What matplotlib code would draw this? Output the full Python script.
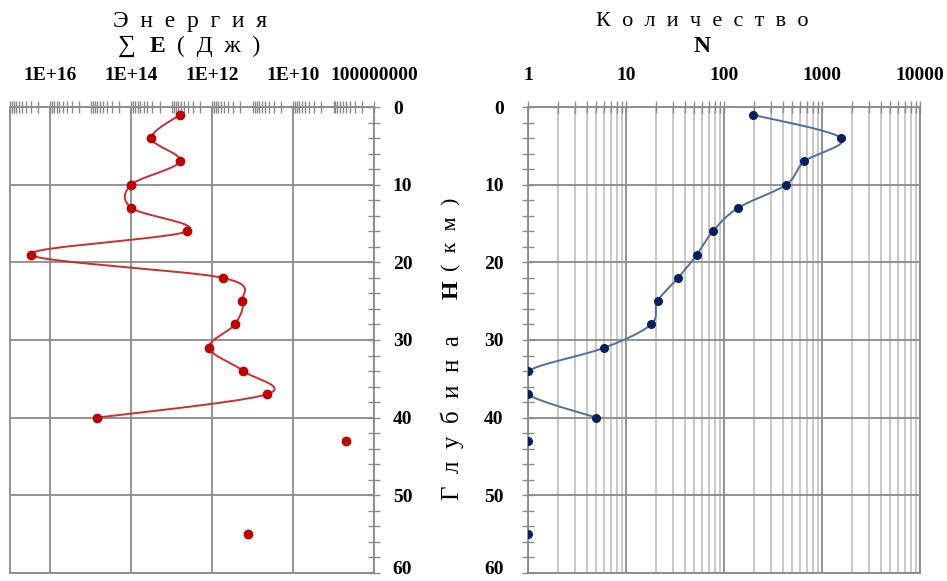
import matplotlib.pyplot as plt
import numpy as np
from matplotlib.ticker import FixedLocator, FixedFormatter, LogLocator, NullFormatter, MultipleLocator
from matplotlib.transforms import ScaledTranslation

plt.rcParams['font.family'] = ['Liberation Serif', 'DejaVu Serif']

# глубина (км), суммарная энергия (Дж) и количество событий N
depth = [1, 4, 7, 10, 13, 16, 19, 22, 25, 28, 31, 34, 37, 40, 43, 55]
energy = [6.3e12, 3.2e13, 6.3e12, 1.0e14, 1.0e14, 4.1e12, 3.1e16, 5.5e11,
          1.8e11, 2.8e11, 1.2e12, 1.7e11, 4.5e10, 7.0e14, 4.9e8, 1.3e11]
count = [197, 1570, 660, 430, 139, 77, 53, 34, 21, 18, 6, 1, 1, 5, 1, 1]
n_joined = 14  # точки до 40 км соединены линией, 43 и 55 км - отдельно

energy_ticks = [1e16, 1e14, 1e12, 1e10, 1e8]
energy_labels = ['1E+16', '1E+14', '1E+12', '1E+10', '100000000']
count_ticks = [1, 10, 100, 1000, 10000]
count_labels = ['1', '10', '100', '1000', '10000']

W, H = 947, 581
fig = plt.figure(figsize=(W / 100, H / 100), dpi=100)


def box(x0, y0, x1, y1):
    return [x0 / W, 1 - y1 / H, (x1 - x0) / W, (y1 - y0) / H]


def smooth(ax, xs, ys, steps=24):
    # сглаженная линия как в Excel: кривые Безье в экранных координатах
    p = ax.transData.transform(np.column_stack([xs, ys]))
    p = np.vstack([p[0], p, p[-1]])
    t = np.linspace(0, 1, steps)[:, None]
    parts = []
    for i in range(1, len(p) - 2):
        a, d = p[i], p[i + 1]
        b = a + (p[i + 1] - p[i - 1]) / 6
        c = d - (p[i + 2] - p[i]) / 6
        parts.append((1 - t) ** 3 * a + 3 * (1 - t) ** 2 * t * b
                     + 3 * (1 - t) * t ** 2 * c + t ** 3 * d)
    return ax.transData.inverted().transform(np.vstack(parts))


grey = '#8a8a8a'
tick_font = dict(fontsize=14, fontweight='bold')

ax1 = fig.add_axes(box(10, 107, 374, 573))
ax2 = fig.add_axes(box(528, 107, 920, 573))

for ax in (ax1, ax2):
    ax.set_xscale('log')
    ax.set_ylim(60, 0)
    ax.xaxis.tick_top()
    ax.yaxis.set_major_locator(MultipleLocator(10))
    ax.yaxis.set_minor_locator(MultipleLocator(2))
    for s in ax.spines.values():
        s.set_color(grey)
        s.set_linewidth(1.3)
    ax.tick_params(which='both', direction='inout', color=grey, width=1.0)
    ax.tick_params(which='major', length=9)
    ax.tick_params(which='minor', length=8)

# энергия
ax1.set_xlim(1e17, 1e8)
ax1.xaxis.set_major_locator(FixedLocator(energy_ticks))
ax1.xaxis.set_major_formatter(FixedFormatter(energy_labels))
ax1.xaxis.set_minor_locator(LogLocator(base=10, subs=np.arange(1, 10), numticks=40))
ax1.xaxis.set_minor_formatter(NullFormatter())
ax1.yaxis.tick_right()
ax1.grid(which='major', color=grey, lw=1.3)
ax1.tick_params(axis='x', pad=12)
ax1.tick_params(axis='y', pad=9)

xy = smooth(ax1, energy[:n_joined], depth[:n_joined])
ax1.plot(xy[:, 0], xy[:, 1], color='#c83030', lw=1.4, zorder=3)
ax1.plot(energy, depth, 'o', color='#c00000', ms=6, zorder=4)

# количество
ax2.set_xlim(1, 10000)
ax2.xaxis.set_major_locator(FixedLocator(count_ticks))
ax2.xaxis.set_major_formatter(FixedFormatter(count_labels))
ax2.xaxis.set_minor_locator(LogLocator(base=10, subs=np.arange(2, 10), numticks=40))
ax2.xaxis.set_minor_formatter(NullFormatter())
ax2.grid(which='major', axis='x', color=grey, lw=1.3)
ax2.grid(which='minor', axis='x', color='#c4c4c4', lw=1.3)
ax2.grid(which='major', axis='y', color=grey, lw=1.3)
ax2.tick_params(axis='x', pad=12)
ax2.tick_params(axis='y', pad=13)

xy = smooth(ax2, count[:n_joined], depth[:n_joined])
ax2.plot(xy[:, 0], xy[:, 1], color='#4f6ea3', lw=1.4, zorder=3)
ax2.plot(count, depth, 'o', color='#0b1f5e', ms=5.5, zorder=4)

# заголовки
fig.text(190 / W, 1 - 22 / H, 'Э  н  е  р  г  и  я', fontsize=17, ha='center', va='center')
s1 = fig.text(118 / W, 1 - 46 / H, '∑', fontsize=18, ha='left', va='center')
sE = ax1.annotate('E', xy=(1, 0.5), xycoords=s1, xytext=(10, 0), textcoords='offset points',
                  fontsize=17, fontweight='bold', ha='left', va='center', annotation_clip=False)
ax1.annotate('(  Д  ж  )', xy=(1, 0.5), xycoords=sE, xytext=(8, 0), textcoords='offset points',
             fontsize=17, ha='left', va='center', annotation_clip=False)

fig.text(702 / W, 1 - 22 / H, 'К  о  л  и  ч  е  с  т  в  о', fontsize=16,
         ha='center', va='center')
fig.text(702 / W, 1 - 46 / H, 'N', fontsize=17, fontweight='bold', ha='center', va='center')

# подпись оси глубины
g = fig.text(452 / W, 1 - 500 / H, 'Г  л  у  б  и  н  а', fontsize=18, rotation=90,
             ha='center', va='bottom')
gH = ax2.annotate('H', xy=(0.5, 1), xycoords=g, xytext=(0, 26), textcoords='offset points',
                  fontsize=17, fontweight='bold', rotation=90, ha='center', va='bottom',
                  annotation_clip=False)
ax2.annotate('(  к  м  )', xy=(0.5, 1), xycoords=gH, xytext=(0, 7), textcoords='offset points',
             fontsize=16, rotation=90, ha='center', va='bottom', annotation_clip=False)

# подписи делений жирным; нижнюю (60) чуть приподнять, чтобы не обрезалась
fig.canvas.draw()
lift = ScaledTranslation(0, 4 / 72, fig.dpi_scale_trans)
for ax in (ax1, ax2):
    for lab in ax.get_xticklabels() + ax.get_yticklabels():
        lab.set(**tick_font)
    for lab in ax.get_yticklabels():
        if lab.get_text() == '60':
            lab.set_transform(lab.get_transform() + lift)

fig.savefig('out.png', dpi=100)
